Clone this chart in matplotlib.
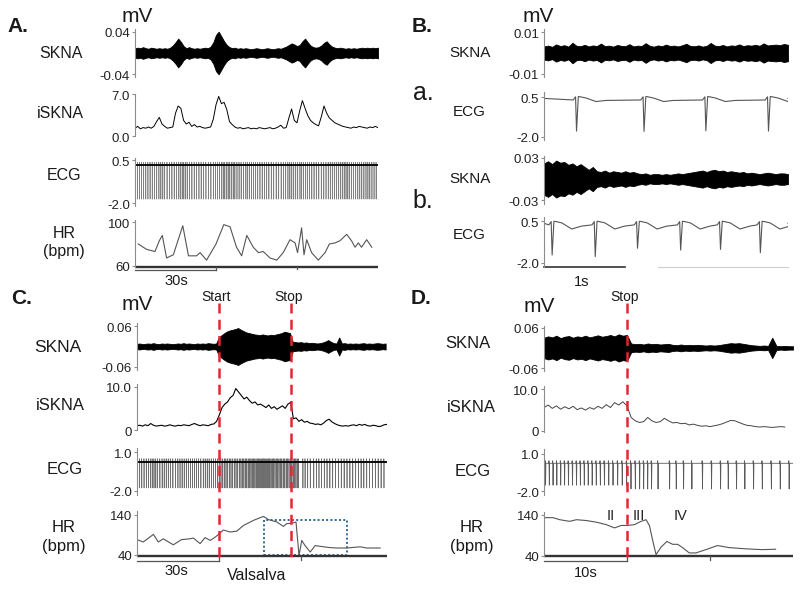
import numpy as np
import matplotlib
matplotlib.use('Agg')
import matplotlib.pyplot as plt
from matplotlib.lines import Line2D
from matplotlib.patches import Rectangle
from matplotlib.transforms import blended_transform_factory as blend

plt.rcParams['font.family'] = ['Liberation Sans', 'DejaVu Sans']

# ── Data ──────────────────────────────────────────────────────────────────────
# Panel A: 90 s record, SKNA envelope (mV, 1 s steps), iSKNA (1 s steps), HR
sknaA_amp = [0.009, 0.010, 0.009, 0.011, 0.009, 0.008, 0.010, 0.009, 0.008, 0.009,
             0.008, 0.009, 0.008, 0.010, 0.014, 0.020, 0.027, 0.021, 0.013, 0.009,
             0.011, 0.009, 0.008, 0.009, 0.008, 0.009, 0.010, 0.009, 0.012, 0.020,
             0.034, 0.040, 0.031, 0.022, 0.015, 0.011, 0.009, 0.010, 0.008, 0.009,
             0.008, 0.009, 0.008, 0.007, 0.008, 0.009, 0.008, 0.007, 0.008, 0.009,
             0.008, 0.007, 0.008, 0.009, 0.008, 0.010, 0.012, 0.015, 0.018, 0.016,
             0.013, 0.015, 0.022, 0.027, 0.020, 0.014, 0.011, 0.010, 0.011, 0.014,
             0.019, 0.022, 0.016, 0.012, 0.010, 0.009, 0.010, 0.009, 0.008, 0.009,
             0.008, 0.009, 0.008, 0.009, 0.010, 0.009, 0.010, 0.009, 0.010, 0.009,
             0.010]
iskA = [1.3, 1.6, 1.2, 1.4, 1.3, 1.5, 1.3, 1.6, 2.4, 3.1,
        2.0, 1.6, 1.3, 1.4, 1.5, 3.8, 5.0, 4.6, 2.6, 2.0,
        2.3, 1.6, 1.9, 1.5, 1.6, 1.4, 1.3, 1.4, 1.5, 2.8,
        5.2, 6.6, 5.4, 5.6, 4.4, 2.4, 1.9, 1.5, 1.3, 1.4,
        1.2, 1.3, 1.4, 1.2, 1.3, 1.2, 1.4, 1.3, 1.2, 1.3,
        1.4, 1.2, 1.3, 1.5, 1.8, 1.3, 1.4, 3.0, 4.5, 2.6,
        2.2, 4.2, 5.9, 4.6, 3.4, 2.6, 2.2, 1.9, 1.7, 3.2,
        5.0, 3.8, 3.0, 2.6, 2.2, 2.0, 1.8, 1.6, 1.5, 1.4,
        1.3, 1.5, 1.4, 1.6, 1.5, 1.4, 1.3, 1.5, 1.4, 1.6,
        1.4]
hrA_t = [1.2, 4.3, 7.4, 9.0, 10.1, 11.7, 14.2, 17.7, 19.8, 22.8, 24.1, 26.5, 30.0,
         32.9, 35.2, 37.6, 39.5, 41.4, 43.8, 45.7, 47.5, 50.0, 52.5, 54.9, 57.4,
         59.3, 60.2, 61.7, 62.6, 63.6, 65.4, 67.9, 70.4, 72.0, 74.1, 75.9, 78.4,
         80.2, 81.5, 82.7, 83.9, 85.8, 87.7]
hrA_bpm = [80, 75, 73, 83, 88, 67, 70, 97, 69, 69, 72, 65, 80,
           98, 96, 77, 69, 88, 77, 72, 73, 67, 65, 72, 84,
           81, 72, 95, 70, 84, 72, 65, 72, 80, 81, 83, 89,
           83, 77, 81, 77, 84, 77]
ecgA_depth = -1.76

# Panel B: 3 s records (a = quiet, b = after activity)
sknaBa_amp = [0.0032, 0.0036, 0.0030, 0.0042, 0.0034, 0.0038, 0.0031, 0.0050, 0.0035, 0.0033,
              0.0040, 0.0032, 0.0037, 0.0034, 0.0046, 0.0033, 0.0036, 0.0031, 0.0039, 0.0035,
              0.0033, 0.0043, 0.0032, 0.0036, 0.0034, 0.0048, 0.0035, 0.0031, 0.0037, 0.0033,
              0.0041, 0.0034, 0.0036, 0.0032, 0.0038, 0.0045, 0.0034, 0.0033, 0.0037, 0.0031,
              0.0035, 0.0049, 0.0036, 0.0034, 0.0039, 0.0032, 0.0037, 0.0035, 0.0042, 0.0034,
              0.0038, 0.0036, 0.0040, 0.0035, 0.0047, 0.0037, 0.0039, 0.0041, 0.0038, 0.0044,
              0.0040]
ecgBa_beats = [0.40, 1.23, 1.99, 2.76]
ecgBa_depth = [-1.65, -1.67, -1.63, -1.65]
ecgBa_base, ecgBa_twave = 0.34, -0.10
sknaBb_amp = [0.022, 0.025, 0.021, 0.026, 0.023, 0.024,
              0.020, 0.022, 0.018, 0.021, 0.017,
              0.013, 0.017,
              0.011, 0.010, 0.012, 0.009, 0.011, 0.010, 0.009, 0.011, 0.009, 0.010,
              0.008, 0.007, 0.008, 0.006, 0.007, 0.007, 0.006, 0.007, 0.006, 0.007, 0.008, 0.007, 0.008, 0.009,
              0.010, 0.011, 0.012, 0.010, 0.012, 0.013, 0.011, 0.012, 0.010, 0.011, 0.010, 0.009, 0.010,
              0.008, 0.009, 0.008, 0.007, 0.008, 0.009, 0.008, 0.007, 0.008, 0.008, 0.007]
ecgBb_beats = [0.10, 0.63, 1.15, 1.68, 2.17, 2.66]
ecgBb_depth = [-1.54, -1.64, -1.13, -1.24, -1.20, -1.40]
ecgBb_base, ecgBb_twave = 0.29, -0.25

# Panel C: Valsalva, 91.5 s record
startC, stopC = 30.0, 56.4
sknaC_amp = [0.008, 0.009, 0.007, 0.008, 0.009, 0.008, 0.010, 0.008, 0.007, 0.009,
             0.008, 0.009, 0.008, 0.007, 0.008, 0.009, 0.008, 0.010, 0.008, 0.009,
             0.008, 0.007, 0.009, 0.008, 0.009, 0.008, 0.010, 0.009, 0.008, 0.009,
             0.028, 0.034, 0.040, 0.045, 0.048, 0.050, 0.052, 0.055, 0.050, 0.046,
             0.042, 0.040, 0.038, 0.036, 0.035, 0.034, 0.036, 0.034, 0.033, 0.035,
             0.034, 0.036, 0.038, 0.040, 0.044, 0.042, 0.040,
             0.014, 0.013, 0.012, 0.013, 0.011, 0.012, 0.010, 0.011, 0.010, 0.009,
             0.010, 0.012, 0.015, 0.019, 0.014, 0.010, 0.009, 0.027, 0.009, 0.010,
             0.008, 0.009, 0.008, 0.009, 0.008, 0.009, 0.010, 0.008, 0.009, 0.008,
             0.009, 0.010, 0.009, 0.008, 0.009]
iskC = [1.0, 1.1, 0.9, 1.2, 1.0, 1.5, 1.1, 0.9, 1.0, 1.1,
        0.9, 1.0, 1.2, 1.0, 0.9, 1.1, 1.0, 1.2, 1.1, 1.0,
        1.3, 1.5, 1.2, 1.0, 1.2, 1.1, 1.0, 1.3, 1.4, 2.0,
        3.5, 5.2, 6.0, 6.5, 7.5, 8.0, 9.6, 8.8, 8.0, 7.2,
        7.6, 6.8, 6.2, 6.5, 5.8, 6.0, 5.6, 5.2, 5.8, 5.0,
        5.4, 4.8, 5.2, 5.6, 5.0, 6.0, 6.4,
        2.6, 2.8, 2.0, 2.4, 1.8, 2.0, 1.6, 1.5, 1.3, 1.4,
        1.2, 1.6, 2.2, 2.5, 1.9, 1.5, 1.2, 1.0, 0.9, 1.0,
        0.9, 1.1, 1.2, 1.0, 1.3, 1.1, 1.3, 1.0, 0.9, 1.1,
        1.0, 0.8, 0.9, 1.2, 1.3]
hrC_t = [0.4, 2.3, 6.0, 7.8, 9.6, 13.3, 16.3, 19.4, 20.6, 23.1, 24.9, 26.8, 28.6,
         30.0, 31.6, 34.1, 36.5, 38.9, 42.6, 46.3, 48.1, 51.2, 53.6, 54.8, 56.7,
         58.2, 59.3, 60.3, 61.5, 63.4, 65.2, 68.3, 70.7, 73.1, 76.8, 81.7, 84.1, 89.0]
hrC_bpm = [77, 72, 91, 72, 80, 65, 78, 80, 82, 68, 83, 76, 84,
           92, 102, 97, 99, 113, 126, 136, 128, 122, 111, 118, 119,
           122, 38, 76, 63, 47, 63, 60, 58, 57, 57, 60, 57, 57]
ecgC_depth = -1.78
boxC_t = [46.3, 76.8]
boxC_bpm = [38.3, 127.5]

# Panel D: recovery after Valsalva, 30 s record
stopD = 10.0
sknaD_amp = [0.030, 0.034, 0.031, 0.036, 0.029, 0.033, 0.035, 0.030, 0.034, 0.032,
             0.036, 0.031, 0.034, 0.037, 0.033, 0.035, 0.038, 0.034, 0.040, 0.036,
             0.038,
             0.013, 0.011, 0.012, 0.010, 0.013, 0.011, 0.012, 0.010, 0.011, 0.012,
             0.009, 0.008, 0.010, 0.008, 0.009, 0.008, 0.009, 0.008, 0.007, 0.008,
             0.007, 0.008, 0.010, 0.012, 0.014, 0.013, 0.014, 0.012, 0.010, 0.008,
             0.007, 0.006, 0.007, 0.006, 0.030, 0.006, 0.005, 0.006, 0.005, 0.005]
iskD = [5.6, 6.2, 5.4, 6.0, 5.2, 5.8, 5.3, 5.9, 5.1, 5.5,
        5.0, 5.6, 5.2, 5.9, 5.4, 6.3, 5.6, 6.8, 6.2, 7.0,
        6.0,
        3.2, 2.4, 2.0, 2.2, 3.2, 2.4, 2.0, 2.2, 3.0, 2.4,
        1.9, 2.0, 1.7, 1.8, 1.4, 1.6, 1.3, 1.1, 1.2, 1.0,
        1.2, 1.4, 1.7, 2.1, 2.5, 2.4, 2.0, 1.6, 1.3, 1.2,
        1.0, 0.9, 1.0, 0.9, 0.8, 0.9, 1.0, 0.9]
hrD_t = [0.1, 1.1, 1.9, 3.1, 3.9, 5.1, 6.3, 7.5, 8.5, 9.3, 10.1, 10.9, 11.7, 12.3,
         12.7, 13.1, 13.5, 14.1, 14.8, 15.5, 16.1, 16.7, 17.5, 18.3, 19.5, 20.9,
         22.3, 24.3, 26.3, 27.9]
hrD_bpm = [133, 133, 128, 124, 128, 126, 122, 116, 108, 114, 114, 116, 124, 128,
           114, 77, 43, 61, 75, 68, 68, 60, 47, 47, 55, 65, 60, 57, 55, 56]
ecgD_depth = [-1.50, -1.80]          # before / after stop
phasesD = ['II', 'III', 'IV']
phasesD_t = [8.1, 11.4, 16.4]

# ── Colours / helpers ─────────────────────────────────────────────────────────
W, H = 800, 590
SPINE = '#8c8c8c'
RED = '#e3262f'
HRCOL = '#555555'

fig = plt.figure(figsize=(W / 100, H / 100), dpi=100)
fig.patch.set_facecolor('white')


def px_axes(x0, y0, x1, y1, xlim):
    ax = fig.add_axes([x0 / W, 1 - y1 / H, (x1 - x0) / W, (y1 - y0) / H])
    ax.set_xlim(*xlim)
    ax.patch.set_visible(False)
    for s in ['top', 'right', 'bottom']:
        ax.spines[s].set_visible(False)
    ax.spines['left'].set_color(SPINE)
    ax.spines['left'].set_linewidth(0.8)
    ax.set_xticks([])
    return ax


def y_axis(ax, lim, ticks, labels):
    ax.set_ylim(*lim)
    ax.set_yticks(ticks)
    ax.set_yticklabels([])
    ax.tick_params(axis='y', length=2.5, width=0.8, color=SPINE)
    for v, s in zip(ticks, labels):
        ax.annotate(s, xy=(0, v), xycoords=('axes fraction', 'data'),
                    xytext=(-5, -2.5), textcoords='offset pixels',
                    ha='right', va='center', fontsize=9.5, color='#222')


def ftext(x, y, s, size=11.5, ha='center', va='center', **kw):
    fig.text(x / W, 1 - y / H, s, ha=ha, va=va, fontsize=size, color='#1a1a1a', **kw)


def skna(ax, amp, t_end):
    a = np.asarray(amp)
    t = np.linspace(0, t_end, len(a))
    ax.fill_between(t, -a, a, color='black', lw=0.6, edgecolor='black')


def isk(ax, vals, t_end, color='black', lw=0.8):
    t = np.linspace(0, t_end, len(vals))
    ax.plot(t, vals, color=color, lw=lw)


def beats_from_hr(t_hr, bpm, t_end):
    t_hr = np.asarray(t_hr)
    out, t = [], 0.15
    while t < t_end:
        out.append(t)
        t += 60.0 / bpm[int(np.argmin(np.abs(t_hr - t)))]
    return out


def ecg_dense(ax, beats, depths, base, r_up, t_end, color, lw):
    xs, ys = [0], [base]
    for b, d in zip(beats, depths):
        xs += [b - 0.03, b, b + 0.04, b + 0.08]
        ys += [base, base + r_up, d, base]
    xs.append(t_end); ys.append(base)
    ax.plot(xs, ys, color=color, lw=lw)


def ecg_slow(ax, beats, depths, base, twave, t_end):
    xs, ys = [0], [base + 0.1]
    for b, d in zip(beats, depths):
        xs += [b - 0.04, b - 0.012, b, b + 0.022, b + 0.05, b + 0.12, b + 0.24, b + 0.36]
        ys += [base, base + 0.2, d, base + 0.22, base + 0.2, base + 0.12,
               base + twave, base + twave * 0.3]
    xs.append(t_end); ys.append(base + 0.1)
    ax.plot(xs, ys, color='#555', lw=0.8)


def time_axis(ax, t_end, bar, long_tick, short_ticks, gap):
    tr = blend(ax.transData, ax.transAxes)
    hgt = ax.bbox.height
    yb = -gap / hgt
    ax.plot([0, t_end], [0, 0], transform=tr, color='#333', lw=1.7, clip_on=False,
            solid_capstyle='butt')
    ax.plot([0, bar], [yb, yb], transform=tr, color='#555', lw=0.9, clip_on=False)
    ax.plot([long_tick, long_tick], [0, yb], transform=tr, color='#555', lw=0.9, clip_on=False)
    for s in short_ticks:
        ax.plot([s, s], [0, yb * 0.8], transform=tr, color='#555', lw=0.9, clip_on=False)


def red_line(ax, t, ytop, ybot):
    tr = blend(ax.transData, fig.transFigure)
    fig.add_artist(Line2D([t, t], [1 - ytop / H, 1 - ybot / H], transform=tr,
                          color=RED, lw=1.8, dashes=(4, 2.5)))


# ════════════════════════════════════════════════════════════════
# Panel A
# ════════════════════════════════════════════════════════════════
xa = (135, 378)
ax = px_axes(xa[0], 29, xa[1], 77, (0, 90))
y_axis(ax, (-0.045, 0.045), [0.04, -0.04], ['0.04', '-0.04'])
skna(ax, sknaA_amp, 90)

ax = px_axes(xa[0], 94, xa[1], 136, (0, 90))
y_axis(ax, (0, 7.0), [7.0, 0.0], ['7.0', '0.0'])
isk(ax, iskA, 90, lw=0.7)

ax = px_axes(xa[0], 158, xa[1], 206, (0, 90))
y_axis(ax, (-2.16, 0.63), [0.5, -2.0], ['0.5', '-2.0'])
bA = beats_from_hr(hrA_t, hrA_bpm, 89.8)
ecg_dense(ax, bA, [ecgA_depth] * len(bA), 0.22, 0.17, 90, '#808080', 0.5)
ax.plot([0, 90], [0.22, 0.22], color='black', lw=1.3)

ax = px_axes(xa[0], 220, xa[1], 266.7, (0, 90))
y_axis(ax, (58.9, 102.3), [100, 60], ['100', '60'])
ax.plot(hrA_t, hrA_bpm, color=HRCOL, lw=0.8)
time_axis(ax, 90, 30, 30, [60], 3.5)

ftext(18, 27, 'A.', size=15, fontweight='bold')
ftext(137, 16, 'mV', size=15)
ftext(61, 53, 'SKNA')
ftext(60, 113, 'iSKNA')
ftext(64, 175, 'ECG')
ftext(64, 233, 'HR')
ftext(64, 252, '(bpm)')
ftext(176, 281, '30s', size=10.5)

# ════════════════════════════════════════════════════════════════
# Panel B
# ════════════════════════════════════════════════════════════════
xb = (544, 788)
ax = px_axes(xb[0], 29, xb[1], 77, (0, 3))
y_axis(ax, (-0.0117, 0.0117), [0.01, -0.01], ['0.01', '-0.01'])
skna(ax, sknaBa_amp, 3)

ax = px_axes(xb[0], 92, xb[1], 140, (0, 3))
y_axis(ax, (-2.22, 0.85), [0.5, -2.0], ['0.5', '-2.0'])
ecg_slow(ax, ecgBa_beats, ecgBa_depth, ecgBa_base, ecgBa_twave, 3)

ax = px_axes(xb[0], 156, xb[1], 204, (0, 3))
y_axis(ax, (-0.035, 0.0324), [0.03, -0.03], ['0.03', '-0.03'])
skna(ax, sknaBb_amp, 3)

ax = px_axes(xb[0], 217, xb[1], 267, (0, 3))
y_axis(ax, (-2.27, 0.77), [0.5, -2.0], ['0.5', '-2.0'])
ecg_slow(ax, ecgBb_beats, ecgBb_depth, ecgBb_base, ecgBb_twave, 3)
tr = blend(ax.transData, ax.transAxes)
ax.plot([0, 1], [0, 0], transform=tr, color='#333', lw=1.2, clip_on=False)
ax.plot([1.4, 3.0], [0, 0], transform=tr, color='#cfcfcf', lw=0.8, clip_on=False)

ftext(422, 27, 'B.', size=15, fontweight='bold')
ftext(538, 16, 'mV', size=15)
ftext(470, 53, 'SKNA', size=11)
ftext(423, 100, 'a.', size=18, va='baseline')
ftext(469, 112, 'ECG', size=11)
ftext(470, 179, 'SKNA', size=11)
ftext(423, 208, 'b.', size=18, va='baseline')
ftext(469, 235, 'ECG', size=11)
ftext(582, 282, '1s', size=10.5)

# ════════════════════════════════════════════════════════════════
# Panel C
# ════════════════════════════════════════════════════════════════
xc = (137, 387)
ax = px_axes(xc[0], 323, xc[1], 370, (0, 91.5))
y_axis(ax, (-0.07, 0.07), [0.06, -0.06], ['0.06', '-0.06'])
skna(ax, sknaC_amp, 91)

ax = px_axes(xc[0], 384, xc[1], 430, (0, 91.5))
y_axis(ax, (0, 10.65), [10.0, 0], ['10.0', '0'])
isk(ax, iskC, 91.4, lw=0.8)

ax = px_axes(xc[0], 448, xc[1], 495, (0, 91.5))
y_axis(ax, (-2.33, 1.35), [1.0, -2.0], ['1.0', '-2.0'])
bC = beats_from_hr(hrC_t, hrC_bpm, 91.3)
ecg_dense(ax, bC, [ecgC_depth] * len(bC), 0.26, 0.25, 91.5, '#6e6e6e', 0.5)
ax.plot([0, 91.5], [0.26, 0.26], color='black', lw=1.3)

axC = px_axes(xc[0], 511, xc[1], 556, (0, 91.5))
y_axis(axC, (37, 149.5), [140, 40], ['140', '40'])
axC.plot(hrC_t, hrC_bpm, color=HRCOL, lw=0.8)
axC.add_patch(Rectangle((boxC_t[0], boxC_bpm[0]), boxC_t[1] - boxC_t[0],
                        boxC_bpm[1] - boxC_bpm[0], fill=False,
                        edgecolor='#2f6596', lw=1.4, linestyle=(0, (1, 1.2)),
                        clip_on=False))
time_axis(axC, 91.5, 30, 30, [60], 4.7)
red_line(axC, startC, 303, 557)
red_line(axC, stopC, 303, 557)

ftext(22, 298, 'C.', size=15, fontweight='bold')
ftext(137, 305, 'mV', size=15)
ftext(216.5, 297, 'Start', size=10)
ftext(289, 297, 'Stop', size=10)
ftext(58, 348, 'SKNA', size=12.5)
ftext(60, 405, 'iSKNA', size=12)
ftext(65, 469, 'ECG', size=12)
ftext(64, 528, 'HR', size=12)
ftext(64, 547, '(bpm)', size=12)
ftext(176, 571, '30s', size=10.5)
ftext(257, 576, 'Valsalva', size=11.5)

# ════════════════════════════════════════════════════════════════
# Panel D
# ════════════════════════════════════════════════════════════════
xd = (544, 793)
ax = px_axes(xd[0], 326, xd[1], 371, (0, 30))
y_axis(ax, (-0.068, 0.0645), [0.06, -0.06], ['0.06', '-0.06'])
skna(ax, sknaD_amp, 30)

ax = px_axes(xd[0], 386, xd[1], 432, (0, 30))
y_axis(ax, (-0.3, 10.8), [10.0, 0], ['10.0', '0'])
isk(ax, iskD, 29, color='#444', lw=0.7)

ax = px_axes(xd[0], 449, xd[1], 495, (0, 30))
y_axis(ax, (-2.28, 1.36), [1.0, -2.0], ['1.0', '-2.0'])
bD = beats_from_hr(hrD_t, hrD_bpm, 29.7)
dD = [ecgD_depth[0] if b < stopD else ecgD_depth[1] for b in bD]
ecg_dense(ax, bD, dD, 0.23, 0.2, 30, '#5a5a5a', 0.6)

axD = px_axes(xd[0], 512, xd[1], 556, (0, 30))
y_axis(axD, (39.5, 146.8), [140, 40], ['140', '40'])
axD.plot(hrD_t, hrD_bpm, color=HRCOL, lw=0.8)
for s, t in zip(phasesD, phasesD_t):
    axD.text(t, 138, s, ha='center', va='center', fontsize=10.5, color='#222')
time_axis(axD, 30, 10, 10, [20], 4.7)
red_line(axD, stopD, 303, 557)

ftext(421, 298, 'D.', size=15, fontweight='bold')
ftext(539, 307, 'mV', size=15)
ftext(624.5, 297, 'Stop', size=10)
ftext(468, 344, 'SKNA', size=12)
ftext(471, 407, 'iSKNA', size=12)
ftext(473, 472, 'ECG', size=12)
ftext(472, 528, 'HR', size=12)
ftext(472, 547, '(bpm)', size=12)
ftext(585.5, 573, '10s', size=10.5)

fig.savefig('out.png', dpi=100, facecolor='white')
